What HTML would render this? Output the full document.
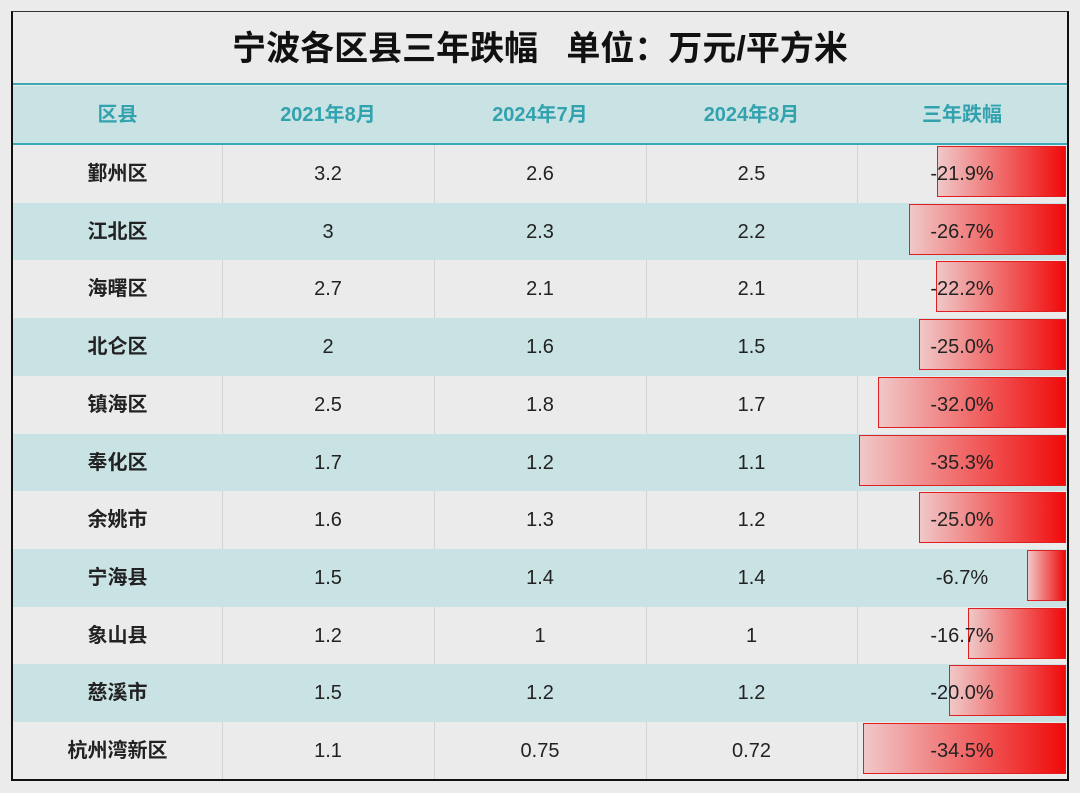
<!DOCTYPE html>
<html><head><meta charset="utf-8"><style>
body{margin:0;width:1080px;height:793px;background:#ebebeb;font-family:"Liberation Sans","Noto Sans CJK SC",sans-serif;position:relative;overflow:hidden}
.box{position:absolute;left:11px;top:11px;width:1054px;height:767px;border:2px solid #111;border-top:1px solid #333}
.a{position:absolute}
.t{left:13px;top:12px;width:1054px;height:72px;line-height:74px;text-align:center;font-size:34px;font-weight:bold;color:#111}
.hl{left:13px;width:1054px;height:2px;background:#3aa9b5}
.hd{top:86px;height:57px;left:13px;width:1054px;background:#c9e2e4}
.h{top:86px;height:57px;line-height:58px;text-align:center;font-size:20px;font-weight:bold;color:#32a3ae}
.r{left:13px;width:1054px;height:58px}
.c{height:58px;line-height:58px;text-align:center;font-size:20px;color:#222}
.b{font-weight:bold}
.v{position:absolute;width:1px;background:#d4d4d4}
.bar{position:absolute;border:1px solid #e02020;background:linear-gradient(to right,#f0c8c8,#f00a0a);box-sizing:border-box}
</style></head><body>
<div class="a t">宁波各区县三年跌幅&nbsp;&nbsp;&nbsp;单位：万元/平方米</div>
<div class="a hd"></div>
<div class="a hl" style="top:83px"></div>
<div class="a hl" style="top:143px"></div>
<div class="a h" style="left:13px;width:209px">区县</div>
<div class="a h" style="left:222px;width:212px">2021年8月</div>
<div class="a h" style="left:434px;width:212px">2024年7月</div>
<div class="a h" style="left:646px;width:211px">2024年8月</div>
<div class="a h" style="left:857px;width:210px">三年跌幅</div>
<div id="rows"></div>
<div class="box"></div>
<script>
var d=[["鄞州区","3.2","2.6","2.5",21.9],["江北区","3","2.3","2.2",26.7],["海曙区","2.7","2.1","2.1",22.2],["北仑区","2","1.6","1.5",25.0],["镇海区","2.5","1.8","1.7",32.0],["奉化区","1.7","1.2","1.1",35.3],["余姚市","1.6","1.3","1.2",25.0],["宁海县","1.5","1.4","1.4",6.7],["象山县","1.2","1","1",16.7],["慈溪市","1.5","1.2","1.2",20.0],["杭州湾新区","1.1","0.75","0.72",34.5]];
var h="",xs=[13,222,434,646,857,1067];
for(var i=0;i<d.length;i++){var y=145+i*57.7;
h+='<div class="a r" style="top:'+y+'px;background:'+(i%2?'#c9e2e4':'#ebebeb')+'"></div>';
if(i%2==0){for(var k=1;k<5;k++)h+='<div class="v" style="left:'+xs[k]+'px;top:'+y+'px;height:58px"></div>';}
var w=d[i][4]*5.87;
h+='<div class="bar" style="left:'+(1066-w)+'px;width:'+w+'px;top:'+(y+1)+'px;height:51px"></div>';
for(var k=0;k<5;k++){var txt=k<4?d[i][k]:"-"+d[i][4].toFixed(1)+"%";
h+='<div class="a c'+(k==0?' b':'')+'" style="top:'+y+'px;left:'+xs[k]+'px;width:'+(xs[k+1]-xs[k])+'px">'+txt+'</div>';}}
document.getElementById("rows").innerHTML=h;
</script>
</body></html>
